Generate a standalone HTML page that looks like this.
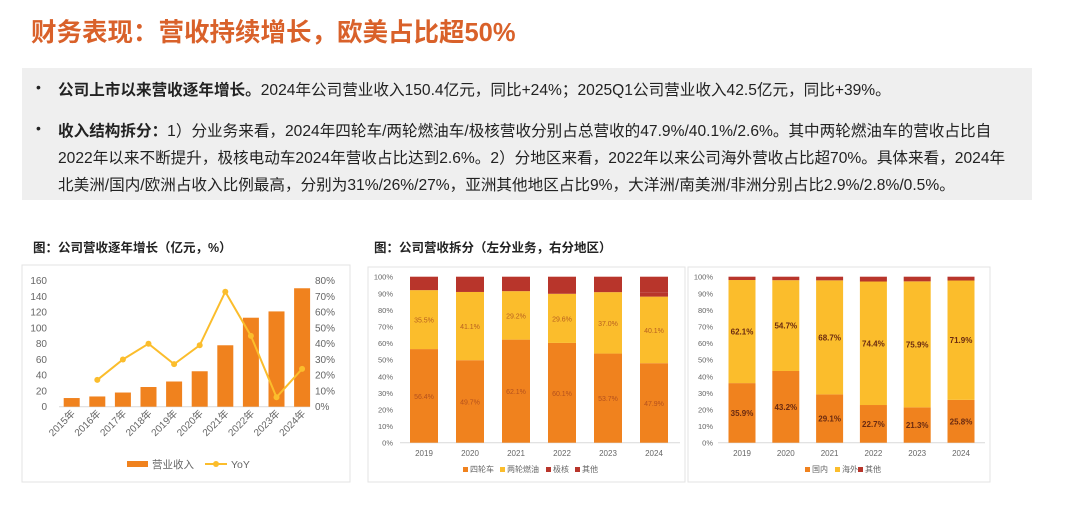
<!DOCTYPE html>
<html><head><meta charset="utf-8">
<style>
body{margin:0;width:1080px;height:523px;background:#fff;font-family:"Liberation Sans","Noto Sans CJK SC",sans-serif;position:relative;overflow:hidden}
.abs{position:absolute;white-space:nowrap}
#title{left:31px;top:12px;font-size:25.5px;font-weight:bold;color:#d9612a}
#box{left:22px;top:68px;width:1010px;height:132px;background:#efefef}
.ln{position:absolute;left:36px;font-size:15.6px;color:#222;white-space:nowrap}
.ln .b{font-weight:bold}
.dot{position:absolute;left:14px;font-size:14px;color:#222}
.ct{font-size:12.5px;font-weight:bold;color:#222}
svg text{font-family:"Liberation Sans","Noto Sans CJK SC",sans-serif}
</style></head><body>
<div class="abs" id="title">财务表现：营收持续增长，欧美占比超50%</div>
<div class="abs" id="box">
<div class="dot" style="top:11px">•</div>
<div class="ln" style="top:10px"><span class="b">公司上市以来营收逐年增长。</span>2024年公司营业收入150.4亿元，同比+24%；2025Q1公司营业收入42.5亿元，同比+39%。</div>
<div class="dot" style="top:52px">•</div>
<div class="ln" style="top:51px"><span class="b">收入结构拆分：</span>1）分业务来看，2024年四轮车/两轮燃油车/极核营收分别占总营收的47.9%/40.1%/2.6%。其中两轮燃油车的营收占比自</div>
<div class="ln" style="top:78px">2022年以来不断提升，极核电动车2024年营收占比达到2.6%。2）分地区来看，2022年以来公司海外营收占比超70%。具体来看，2024年</div>
<div class="ln" style="top:105px">北美洲/国内/欧洲占收入比例最高，分别为31%/26%/27%，亚洲其他地区占比9%，大洋洲/南美洲/非洲分别占比2.9%/2.8%/0.5%。</div>
</div>
<div class="abs ct" style="left:33px;top:237px">图：公司营收逐年增长（亿元，%）</div>
<div class="abs ct" style="left:374px;top:237px">图：公司营收拆分（左分业务，右分地区）</div>
<svg id="svg" width="1080" height="523" style="position:absolute;left:0;top:0">
<rect x="22" y="265" width="328" height="217" fill="none" stroke="#e3e3e3"/>
<rect x="368" y="267" width="317" height="215" fill="none" stroke="#e3e3e3"/>
<rect x="688" y="267" width="302" height="215" fill="none" stroke="#e3e3e3"/>
</svg>
<script>
const years=["2015年","2016年","2017年","2018年","2019年","2020年","2021年","2022年","2023年","2024年"];
const revenue=[11,13,18,25,32,45,78,113,121,150.4];
const yoy=[null,17,30,40,27,39,73,45,6,24];
const revTicks=[0,20,40,60,80,100,120,140,160];
const yoyTicks=[0,10,20,30,40,50,60,70,80];
const segYears=["2019","2020","2021","2022","2023","2024"];
const fourWheel=[56.4,49.7,62.1,60.1,53.7,47.9];
const twoWheel=[35.5,41.1,29.2,29.6,37.0,40.1];
const zeeho=[0,0,0,0,0,2.6];
const domestic=[35.9,43.2,29.1,22.7,21.3,25.8];
const overseas=[62.1,54.7,68.7,74.4,75.9,71.9];
const pctTicks=[0,10,20,30,40,50,60,70,80,90,100];
const svg=document.getElementById('svg');
const NS="http://www.w3.org/2000/svg";
function mk(tag,attrs,name,txt){const e=document.createElementNS(NS,tag);for(const k in attrs)e.setAttribute(k,attrs[k]);


if(txt!==undefined)e.textContent=txt;svg.appendChild(e);return e;}
const OR="#f0821e",YE="#fbbd2c",RD="#b8352b",AX="#666";
const ly=v=>406.7-v/160*126, ly2=v=>406.7-v/80*126, lx=i=>71.7+i*25.6;
revTicks.forEach(t=>mk('text',{x:47,y:ly(t)+3.5,'font-size':10,fill:AX,'text-anchor':'end'},'left-y-tick',t));
yoyTicks.forEach(t=>mk('text',{x:315,y:ly2(t)+3.5,'font-size':10,fill:AX},'right-y-tick',t+'%'));
mk('line',{x1:59,x2:310,y1:406.7,y2:406.7,stroke:'#d9d9d9'},'x-axis-line');
revenue.forEach((v,i)=>mk('rect',{x:lx(i)-8,y:ly(v),width:16,height:406.7-ly(v),fill:OR},'revenue-bar'));
let pts=[];yoy.forEach((v,i)=>{if(v!==null)pts.push(lx(i)+','+ly2(v));});
mk('polyline',{points:pts.join(' '),fill:'none',stroke:YE,'stroke-width':2},'yoy-line');
yoy.forEach((v,i)=>{if(v!==null)mk('circle',{cx:lx(i),cy:ly2(v),r:3,fill:YE},'yoy-point');});
years.forEach((y,i)=>mk('text',{x:lx(i)+4,y:414,'font-size':10,fill:AX,'text-anchor':'end',transform:`rotate(-45 ${lx(i)+4} 414)`},'x-tick',y));
mk('rect',{x:127,y:461,width:21,height:6,fill:OR},'legend-revenue-swatch');
mk('text',{x:152,y:468,'font-size':10.5,fill:AX},'legend-revenue','营业收入');
mk('line',{x1:205,x2:227,y1:464,y2:464,stroke:YE,'stroke-width':2},'legend-yoy-line');
mk('circle',{cx:216,cy:464,r:3,fill:YE},'legend-yoy-marker');
mk('text',{x:231,y:468,'font-size':10.5,fill:AX},'legend-yoy','YoY');
const py=v=>442.7-v/100*166;
function stacked(x0,x1,labelX,cx,bw,series,colors,labelIdx,labelBold,prefix){
 pctTicks.forEach(t=>mk('text',{x:labelX,y:py(t)+3,'font-size':7.5,fill:AX,'text-anchor':'end'},prefix+'-y-tick',t+'%'));
 mk('line',{x1:x0,x2:x1,y1:442.7,y2:442.7,stroke:'#d9d9d9'},prefix+'-x-axis');
 segYears.forEach((y,i)=>{
  let acc=0;
  series.forEach((s,k)=>{const v=s[i];if(v>0){mk('rect',{x:cx(i)-bw/2,y:py(acc+v),width:bw,height:py(acc)-py(acc+v),fill:colors[k]},prefix+'-bar-seg');
   if(labelIdx.includes(k))mk('text',{x:cx(i),y:(py(acc)+py(acc+v))/2+3,'font-size':labelBold?8:7,'font-weight':labelBold?'bold':'normal',fill:labelBold?'#6a2a10':'#a0401c','text-anchor':'middle',opacity:labelBold?1:0.75},prefix+'-value-label',v.toFixed(1)+'%');}
   acc+=v;});
  mk('rect',{x:cx(i)-bw/2,y:py(100),width:bw,height:py(acc)-py(100),fill:colors[colors.length-1]},prefix+'-bar-other');
  mk('text',{x:cx(i),y:456,'font-size':8,fill:AX,'text-anchor':'middle'},prefix+'-x-tick',y);
 });
}
stacked(400,680,393,i=>424+i*46,28,[fourWheel,twoWheel,zeeho],[OR,YE,RD,RD],[0,1],false,'seg');
stacked(718,985,713,i=>742+i*43.8,27,[domestic,overseas],[OR,YE,RD],[0,1],true,'geo');
[[463,'四轮车',OR],[500,'两轮燃油',YE],[546,'极核',RD],[575,'其他',RD]].forEach(l=>{mk('rect',{x:l[0],y:467,width:5,height:5,fill:l[2]},'seg-legend-swatch');mk('text',{x:l[0]+7,y:472,'font-size':8,fill:AX},'seg-legend-label',l[1]);});
[[805,'国内',OR],[835,'海外',YE],[858,'其他',RD]].forEach(l=>{mk('rect',{x:l[0],y:467,width:5,height:5,fill:l[2]},'geo-legend-swatch');mk('text',{x:l[0]+7,y:472,'font-size':8,fill:AX},'geo-legend-label',l[1]);});
</script>
</body></html>
